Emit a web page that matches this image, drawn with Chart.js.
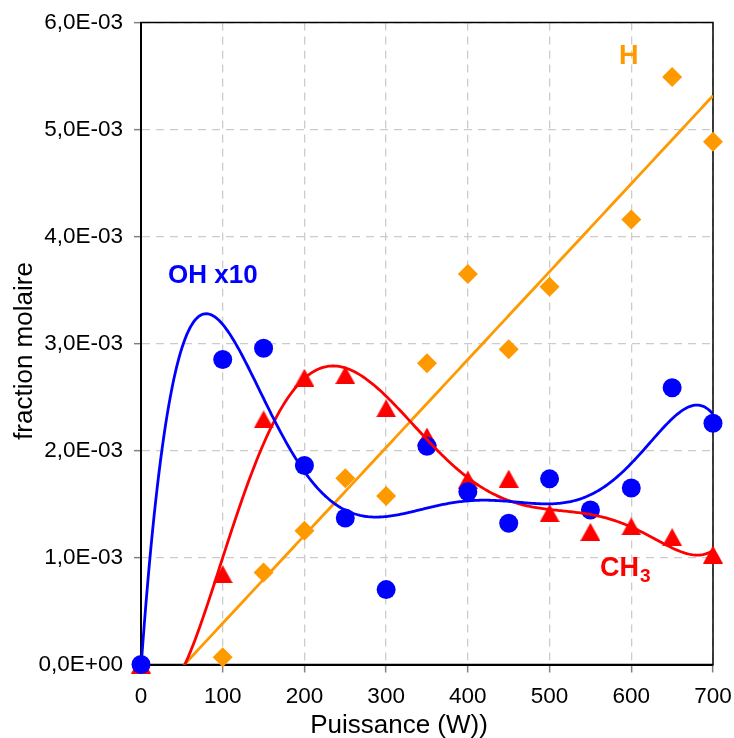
<!DOCTYPE html>
<html>
<head>
<meta charset="utf-8">
<script src="https://cdn.jsdelivr.net/npm/chart.js@4.4.1/dist/chart.umd.min.js"></script>
<style>
  html, body { margin: 0; padding: 0; background: #fff; }
</style>
</head>
<body>
<canvas id="chart" width="734" height="738"></canvas>
<script>
// Data (x = puissance in W, y = fraction molaire)
const puissance = [0, 100, 150, 200, 250, 300, 350, 400, 450, 500, 550, 600, 650, 700];
const fracH   = [null, 0.067e-3, 0.86e-3, 1.25e-3, 1.74e-3, 1.575e-3, 2.815e-3, 3.65e-3, 2.946e-3, 3.53e-3, null, 4.16e-3, 5.49e-3, 4.886e-3];
const fracOH  = [0, 2.85e-3, 2.955e-3, 1.86e-3, 1.37e-3, 0.70e-3, 2.04e-3, 1.615e-3, 1.32e-3, 1.735e-3, 1.444e-3, 1.65e-3, 2.587e-3, 2.254e-3];
const fracCH3 = [0, 0.844e-3, 2.29e-3, 2.68e-3, 2.705e-3, 2.394e-3, 2.13e-3, 1.727e-3, 1.737e-3, 1.415e-3, 1.24e-3, 1.29e-3, 1.19e-3, 1.028e-3];

const xTickLabels = ['0', '100', '200', '300', '400', '500', '600', '700'];
const yTickLabels = ['0,0E+00', '1,0E-03', '2,0E-03', '3,0E-03', '4,0E-03', '5,0E-03', '6,0E-03'];

const ORANGE = '#ff9900';
const BLUE = '#0000ff';
const RED = '#ff0000';
const FONT = "'Liberation Sans', Arial, sans-serif";

// least squares polynomial trendline (like the spreadsheet one)
function fitPoly(xs, ys, deg) {
    const pts = [];
    xs.forEach((x, i) => { if (ys[i] !== null) pts.push([x / 700, ys[i]]); });
    const n = deg + 1;
    const m = [];
    for (let r = 0; r < n; r++) {
        m.push(new Array(n + 1).fill(0));
        for (const [x, y] of pts) {
            for (let c = 0; c < n; c++) m[r][c] += Math.pow(x, r + c);
            m[r][n] += Math.pow(x, r) * y;
        }
    }
    for (let col = 0; col < n; col++) {
        let piv = col;
        for (let r = col + 1; r < n; r++) if (Math.abs(m[r][col]) > Math.abs(m[piv][col])) piv = r;
        [m[col], m[piv]] = [m[piv], m[col]];
        for (let r = 0; r < n; r++) {
            if (r === col) continue;
            const f = m[r][col] / m[col][col];
            for (let c = col; c <= n; c++) m[r][c] -= f * m[col][c];
        }
    }
    const coef = m.map((row, i) => row[n] / row[i]);
    return x => coef.reduce((s, a, i) => s + a * Math.pow(x / 700, i), 0);
}

function trend(ys, deg) {
    const f = fitPoly(puissance, ys, deg);
    const out = [];
    for (let x = 0; x <= 700; x += 2) out.push({ x: x, y: f(x) });
    return out;
}

const toPoints = ys => puissance.map((x, i) => ({ x: x, y: ys[i] })).filter(p => p.y !== null);

// triangle marker centred on its bounding box
const triangle = document.createElement('canvas');
triangle.width = 20;
triangle.height = 18;
const tctx = triangle.getContext('2d');
tctx.fillStyle = RED;
tctx.beginPath();
tctx.moveTo(10, 0);
tctx.lineTo(20, 18);
tctx.lineTo(0, 18);
tctx.closePath();
tctx.fill();

const decor = {
    id: 'decor',
    beforeDatasetsDraw(chart) {
        const { ctx, chartArea: a } = chart;
        ctx.save();
        ctx.strokeStyle = '#000';
        ctx.lineWidth = 1.5;
        ctx.strokeRect(a.left, a.top, a.right - a.left, a.bottom - a.top);
        ctx.restore();
    },
    afterDraw(chart) {
        const ctx = chart.ctx;
        ctx.save();
        ctx.textBaseline = 'alphabetic';
        ctx.textAlign = 'left';

        ctx.font = 'bold 26px ' + FONT;
        ctx.fillStyle = BLUE;
        ctx.fillText('OH x10', 168, 283);

        ctx.font = 'bold 27px ' + FONT;
        ctx.fillStyle = ORANGE;
        ctx.fillText('H', 619, 64);

        ctx.fillStyle = RED;
        ctx.fillText('CH', 600, 576);
        const w = ctx.measureText('CH').width;
        ctx.font = 'bold 19px ' + FONT;
        ctx.fillText('3', 600 + w + 1, 582);

        // axis titles
        ctx.fillStyle = '#000';
        ctx.font = '26px ' + FONT;
        ctx.textAlign = 'center';
        ctx.fillText('Puissance (W))', 399, 733);
        ctx.translate(31.7, 351);
        ctx.rotate(-Math.PI / 2);
        ctx.fillText('fraction molaire', 0, 0);
        ctx.restore();
    }
};

const gridOpts = (tl) => ({
    color: '#cccccc',
    lineWidth: 1.3,
    tickColor: '#808080',
    tickWidth: 1.5,
    tickLength: tl
});

new Chart(document.getElementById('chart'), {
    type: 'scatter',
    data: {
        datasets: [
            { data: trend(fracOH, 6), showLine: true, borderColor: BLUE, borderWidth: 2.8, pointRadius: 0, order: 0 },
            { data: trend(fracCH3, 6), showLine: true, borderColor: RED, borderWidth: 2.8, pointRadius: 0, order: 1 },
            { data: trend(fracH, 1), showLine: true, borderColor: ORANGE, borderWidth: 2.8, pointRadius: 0, order: 2 },
            { data: toPoints(fracOH), pointStyle: 'circle', pointRadius: 9.5, backgroundColor: BLUE, borderWidth: 0, clip: false, order: 3 },
            { data: toPoints(fracCH3), pointStyle: triangle, pointRadius: 9, backgroundColor: RED, borderWidth: 0, clip: false, order: 4 },
            { data: toPoints(fracH), pointStyle: 'rectRot', pointRadius: 10, backgroundColor: ORANGE, borderWidth: 0, clip: false, order: 5 }
        ]
    },
    options: {
        responsive: false,
        animation: false,
        layout: { padding: { top: 22.5, right: 21, bottom: 0, left: 0 } },
        plugins: { legend: { display: false }, tooltip: { enabled: false } },
        scales: {
            x: {
                type: 'linear',
                min: 0,
                max: 700,
                ticks: {
                    stepSize: 100,
                    color: '#000',
                    padding: 11,
                    font: { family: FONT, size: 22.5 },
                    callback: (v, i) => xTickLabels[i]
                },
                grid: gridOpts(8),
                border: { color: '#000', width: 2, dash: [8, 6] },
                afterFit(s) { s.height = 73.5; s.paddingLeft = 0; s.paddingRight = 0; }
            },
            y: {
                min: 0,
                max: 0.006,
                ticks: {
                    stepSize: 0.001,
                    color: '#000',
                    padding: 11,
                    font: { family: FONT, size: 22.5 },
                    callback: (v, i) => yTickLabels[i]
                },
                grid: gridOpts(7),
                border: { color: '#000', width: 2, dash: [8, 6] },
                afterFit(s) { s.width = 141; s.paddingTop = 0; s.paddingBottom = 0; }
            }
        }
    },
    plugins: [decor]
});
</script>
</body>
</html>
